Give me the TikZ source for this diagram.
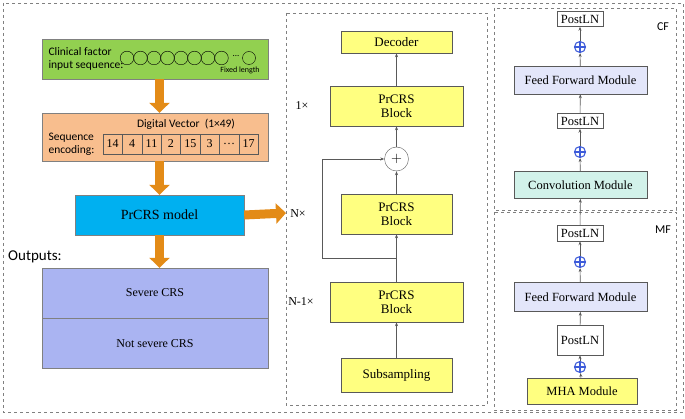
\documentclass[tikz,border=0pt]{standalone}
\usepackage{fontspec}
\newfontfamily\serf{Liberation Serif}
\newfontfamily\sansf{Carlito}
\usetikzlibrary{positioning,arrows.meta}
\definecolor{grnbox}{HTML}{92D050}
\definecolor{peach}{HTML}{F8BE8E}
\definecolor{skyb}{HTML}{00B0F0}
\definecolor{lilac}{HTML}{AAB4F2}
\definecolor{yel}{HTML}{FFFF80}
\definecolor{lav}{HTML}{E3E6FA}
\definecolor{mint}{HTML}{D2F2EA}
\definecolor{orng}{HTML}{E38B17}
\definecolor{oplusb}{HTML}{3D5BD9}
\tikzset{
  blk/.style={draw=gray!70!black,fill=yel,font=\serf\fontsize{13}{14}\selectfont,align=center,inner sep=0pt},
  mod/.style={draw=gray!70!black,font=\serf\fontsize{12.5}{13}\selectfont,inner sep=0pt},
  dbox/.style={draw=gray,dashed,line width=0.7pt},
  fat/.style={-{Triangle[length=10pt,width=20pt]},line width=9pt,orng},
  thin/.style={-{Stealth[length=4pt]},gray!70!black,line width=0.6pt},
  lab/.style={font=\serf\fontsize{12}{13}\selectfont},
  osum/.style={circle,draw=oplusb,line width=1.1pt,minimum size=11pt,inner sep=0pt,
    path picture={\draw[oplusb,line width=1.1pt]
      (path picture bounding box.north) -- (path picture bounding box.south)
      (path picture bounding box.west) -- (path picture bounding box.east);}},
}
\begin{document}
\begin{tikzpicture}[x=1pt,y=-1pt]
  \useasboundingbox (0,0) rectangle (685,419);
  % frames ----------------------------------------------------------------------
  \draw[dbox] (3,3) rectangle (683,412);
  \draw[dbox] (286,13) rectangle (487,405);
  \draw[dbox] (494,8) rectangle (676,210);
  \draw[dbox] (494,212) rectangle (676,410);

  %----------------------------------------------------------------------------%
  %  left column  --------------------------------------------------------------%
  \node[draw=gray,fill=grnbox,minimum width=226pt,minimum height=40pt,inner sep=0pt]
        (input) at (155,59) {};
  \node[anchor=west,align=left,font=\sansf\fontsize{11.5}{13}\selectfont] at (45,59)
        {Clinical factor\\input sequence:};
  \foreach \i in {0,...,7}
    \draw (127+\i*13.5,58) circle (6.8pt);
  \node[font=\sansf\small] at (236,56) {...};
  \draw (249,58) circle (6.5pt);
  \node[font=\sansf\fontsize{8}{9}\selectfont] at (240,70) {Fixed length};

  \node[draw=gray,fill=peach,minimum width=226pt,minimum height=48pt,inner sep=0pt]
        (enc) at (155,137) {};
  \node[font=\sansf\fontsize{11.5}{12}\selectfont] at (186,124) {Digital Vector\ \ (1×49)};
  \node[anchor=west,align=left,font=\sansf\fontsize{11.5}{13}\selectfont] at (45,144)
        {Sequence\\encoding:};
  \foreach \v [count=\k from 0] in {14,4,11,2,15,3,…,17}
    \node[draw=gray!70!black,minimum width=19.4pt,minimum height=20pt,inner sep=0pt,
          font=\serf\fontsize{12}{12}\selectfont] at (112.7+\k*19.4,144) {\v};

  \node[draw=gray,fill=skyb,minimum width=169pt,minimum height=40pt,inner sep=0pt,
        font=\serf\fontsize{14}{15}\selectfont] (model) at (159.5,215) {PrCRS model};
  \node[font=\sansf\fontsize{15}{16}\selectfont] (outs) at (35,257) {Outputs:};
  \node[draw=gray,fill=lilac,minimum width=226pt,minimum height=50pt,inner sep=0pt,
        font=\serf\fontsize{12}{13}\selectfont] (sev) at (155,293) {Severe CRS};
  \node[draw=gray,fill=lilac,minimum width=226pt,minimum height=50pt,inner sep=0pt,
        font=\serf\fontsize{12}{13}\selectfont,below=0pt of sev] (nsev) {Not severe CRS};

  \draw[fat] (input.south -| model) -- (enc.north -| model);
  \draw[fat] (enc.south -| model) -- (model.north);
  \draw[fat] (model.south) -- (sev.north -| model);
  \coordinate (mid) at (286,213);
  \draw[fat] (model.east) -- (mid);

  %----------------------------------------------------------------------------%
  %  PrCRS stack  --------------------------------------------------------------%
  \node[blk,minimum width=111pt,minimum height=34pt] (sub) at (396.5,375) {Subsampling};
  \node[blk,minimum width=133pt,minimum height=40pt] (b1) at (396.5,302) {PrCRS\\Block};
  \node[blk,minimum width=111pt,minimum height=40pt] (b2) at (396.5,214) {PrCRS\\Block};
  \node[draw=gray!70!black,circle,minimum size=24pt,inner sep=0pt,font=\Large] (sum) at (396.5,159) {$+$};
  \node[blk,minimum width=133pt,minimum height=40pt] (b3) at (396.5,106) {PrCRS\\Block};
  \node[blk,minimum width=111pt,minimum height=22pt] (dec) at (396.5,42) {Decoder};
  \node[lab] at (302,106) {1×};
  \node[lab] at (298,214) {N×};
  \node[lab] at (301,302) {N-1×};

  \coordinate (split) at (396.5,258);
  \coordinate (loop) at (322,258);
  \draw[thin] (sub) -- (b1);
  \draw[thin] (b1) -- (b2);
  \draw[thin] (b2) -- (sum);
  \draw[thin] (sum) -- (b3);
  \draw[thin] (b3) -- (dec);
  \draw[thin] (split) -- (loop) |- (sum.west);

  %----------------------------------------------------------------------------%
  %  MF / CF modules  ----------------------------------------------------------%
  \node[mod,fill=yel,minimum width=110pt,minimum height=26pt] (mha) at (582,391) {MHA Module};
  \node[osum] (p1) at (580,367) {};
  \node[mod,fill=white,minimum width=46pt,minimum height=30pt] (ln1) at (580,340) {PostLN};
  \node[mod,fill=lav,minimum width=133pt,minimum height=29pt] (ff1) at (580.5,297) {Feed Forward Module};
  \node[osum] (p2) at (580,262) {};
  \node[mod,fill=white,minimum width=46pt,minimum height=16pt] (ln2) at (580,233) {PostLN};
  \node[mod,fill=mint,minimum width=133pt,minimum height=27pt] (conv) at (580.5,185) {Convolution Module};
  \node[osum] (p3) at (580,152) {};
  \node[mod,fill=white,minimum width=46pt,minimum height=15pt] (ln3) at (580,121) {PostLN};
  \node[mod,fill=lav,minimum width=133pt,minimum height=28pt] (ff2) at (580.5,80) {Feed Forward Module};
  \node[osum] (p4) at (580,47) {};
  \node[mod,fill=white,minimum width=46pt,minimum height=15pt] (ln4) at (580,19) {PostLN};
  \node[font=\sansf\fontsize{12}{13}\selectfont] at (663,27) {CF};
  \node[font=\sansf\fontsize{12}{13}\selectfont] at (663,230) {MF};

  \draw[thin] (mha) -- (p1);
  \draw[thin] (p1) -- (ln1);
  \draw[thin] (ln1) -- (ff1);
  \draw[thin] (ff1) -- (p2);
  \draw[thin] (p2) -- (ln2);
  \draw[thin] (ln2) -- (conv);
  \draw[thin] (conv) -- (p3);
  \draw[thin] (p3) -- (ln3);
  \draw[thin] (ln3) -- (ff2);
  \draw[thin] (ff2) -- (p4);
  \draw[thin] (p4) -- (ln4);
\end{tikzpicture}
\end{document}
